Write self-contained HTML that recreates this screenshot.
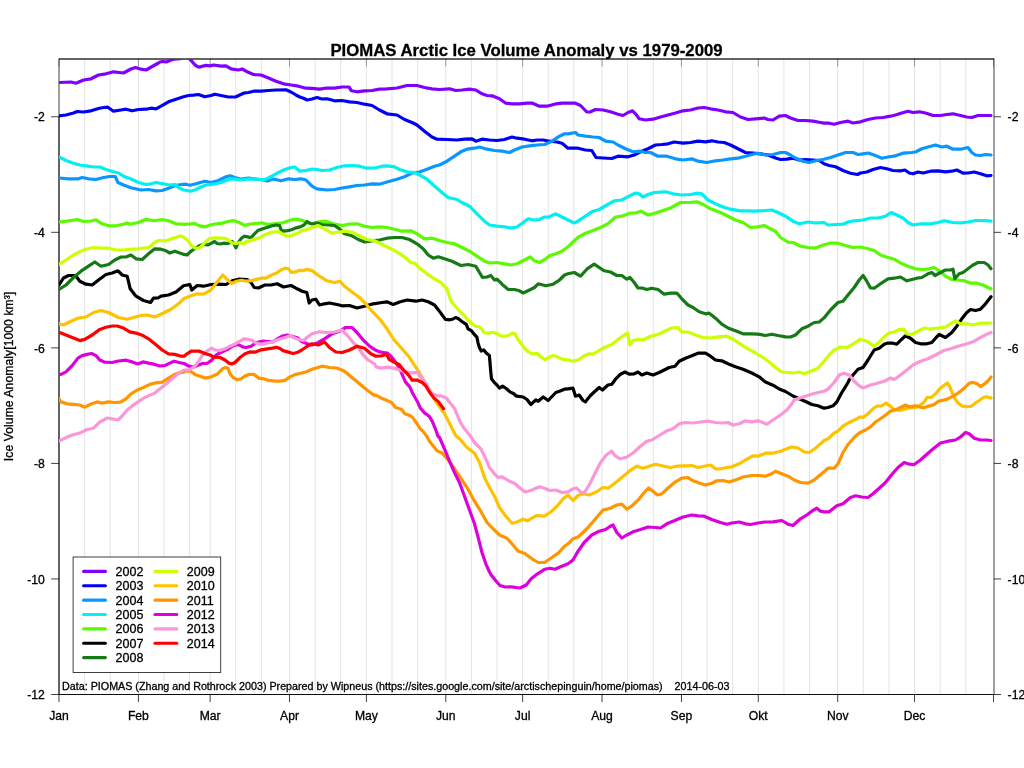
<!DOCTYPE html>
<html><head><meta charset="utf-8"><title>PIOMAS Arctic Ice Volume Anomaly vs 1979-2009</title>
<style>html,body{margin:0;padding:0;background:#fff}body{width:1024px;height:768px;overflow:hidden}svg{display:block}text{font-family:"Liberation Sans",Arial,Helvetica,sans-serif;fill:#000;stroke:#000;stroke-width:0.3px}</style></head><body>
<svg width="1024" height="768" viewBox="0 0 1024 768">
<rect width="1024" height="768" fill="#fff"/>
<defs><clipPath id="pc"><rect x="59.0" y="59.0" width="935.0" height="635.5"/></clipPath></defs>
<g><line x1="84.62" y1="59.0" x2="84.62" y2="694.5" stroke="#d9d9d9" stroke-width="0.75"/><line x1="110.23" y1="59.0" x2="110.23" y2="694.5" stroke="#d9d9d9" stroke-width="0.75"/><line x1="138.41" y1="59.0" x2="138.41" y2="694.5" stroke="#d8d8d8" stroke-width="0.75"/><line x1="164.02" y1="59.0" x2="164.02" y2="694.5" stroke="#d9d9d9" stroke-width="0.75"/><line x1="189.64" y1="59.0" x2="189.64" y2="694.5" stroke="#d9d9d9" stroke-width="0.75"/><line x1="210.13" y1="59.0" x2="210.13" y2="694.5" stroke="#d8d8d8" stroke-width="0.75"/><line x1="235.74" y1="59.0" x2="235.74" y2="694.5" stroke="#d9d9d9" stroke-width="0.75"/><line x1="261.36" y1="59.0" x2="261.36" y2="694.5" stroke="#d9d9d9" stroke-width="0.75"/><line x1="289.53" y1="59.0" x2="289.53" y2="694.5" stroke="#d8d8d8" stroke-width="0.75"/><line x1="315.15" y1="59.0" x2="315.15" y2="694.5" stroke="#d9d9d9" stroke-width="0.75"/><line x1="340.76" y1="59.0" x2="340.76" y2="694.5" stroke="#d9d9d9" stroke-width="0.75"/><line x1="366.38" y1="59.0" x2="366.38" y2="694.5" stroke="#d8d8d8" stroke-width="0.75"/><line x1="392.00" y1="59.0" x2="392.00" y2="694.5" stroke="#d9d9d9" stroke-width="0.75"/><line x1="417.61" y1="59.0" x2="417.61" y2="694.5" stroke="#d9d9d9" stroke-width="0.75"/><line x1="445.79" y1="59.0" x2="445.79" y2="694.5" stroke="#d8d8d8" stroke-width="0.75"/><line x1="471.40" y1="59.0" x2="471.40" y2="694.5" stroke="#d9d9d9" stroke-width="0.75"/><line x1="497.02" y1="59.0" x2="497.02" y2="694.5" stroke="#d9d9d9" stroke-width="0.75"/><line x1="522.63" y1="59.0" x2="522.63" y2="694.5" stroke="#d8d8d8" stroke-width="0.75"/><line x1="548.25" y1="59.0" x2="548.25" y2="694.5" stroke="#d9d9d9" stroke-width="0.75"/><line x1="573.86" y1="59.0" x2="573.86" y2="694.5" stroke="#d9d9d9" stroke-width="0.75"/><line x1="602.04" y1="59.0" x2="602.04" y2="694.5" stroke="#d8d8d8" stroke-width="0.75"/><line x1="627.65" y1="59.0" x2="627.65" y2="694.5" stroke="#d9d9d9" stroke-width="0.75"/><line x1="653.27" y1="59.0" x2="653.27" y2="694.5" stroke="#d9d9d9" stroke-width="0.75"/><line x1="681.44" y1="59.0" x2="681.44" y2="694.5" stroke="#d8d8d8" stroke-width="0.75"/><line x1="707.06" y1="59.0" x2="707.06" y2="694.5" stroke="#d9d9d9" stroke-width="0.75"/><line x1="732.67" y1="59.0" x2="732.67" y2="694.5" stroke="#d9d9d9" stroke-width="0.75"/><line x1="758.29" y1="59.0" x2="758.29" y2="694.5" stroke="#d8d8d8" stroke-width="0.75"/><line x1="783.90" y1="59.0" x2="783.90" y2="694.5" stroke="#d9d9d9" stroke-width="0.75"/><line x1="809.52" y1="59.0" x2="809.52" y2="694.5" stroke="#d9d9d9" stroke-width="0.75"/><line x1="837.70" y1="59.0" x2="837.70" y2="694.5" stroke="#d8d8d8" stroke-width="0.75"/><line x1="863.31" y1="59.0" x2="863.31" y2="694.5" stroke="#d9d9d9" stroke-width="0.75"/><line x1="888.93" y1="59.0" x2="888.93" y2="694.5" stroke="#d9d9d9" stroke-width="0.75"/><line x1="914.54" y1="59.0" x2="914.54" y2="694.5" stroke="#d8d8d8" stroke-width="0.75"/><line x1="940.16" y1="59.0" x2="940.16" y2="694.5" stroke="#d9d9d9" stroke-width="0.75"/><line x1="965.77" y1="59.0" x2="965.77" y2="694.5" stroke="#d9d9d9" stroke-width="0.75"/></g>
<rect x="59.0" y="59.0" width="935.0" height="635.5" fill="none" stroke="#000" stroke-width="0.75"/>
<g stroke="#000" stroke-width="0.75"><line x1="59.00" y1="694.5" x2="59.00" y2="702.0"/><line x1="59.00" y1="58.5" x2="59.00" y2="66.5" stroke-opacity="0.45"/><line x1="138.41" y1="694.5" x2="138.41" y2="702.0"/><line x1="138.41" y1="58.5" x2="138.41" y2="66.5" stroke-opacity="0.45"/><line x1="210.13" y1="694.5" x2="210.13" y2="702.0"/><line x1="210.13" y1="58.5" x2="210.13" y2="66.5" stroke-opacity="0.45"/><line x1="289.53" y1="694.5" x2="289.53" y2="702.0"/><line x1="289.53" y1="58.5" x2="289.53" y2="66.5" stroke-opacity="0.45"/><line x1="366.38" y1="694.5" x2="366.38" y2="702.0"/><line x1="366.38" y1="58.5" x2="366.38" y2="66.5" stroke-opacity="0.45"/><line x1="445.79" y1="694.5" x2="445.79" y2="702.0"/><line x1="445.79" y1="58.5" x2="445.79" y2="66.5" stroke-opacity="0.45"/><line x1="522.63" y1="694.5" x2="522.63" y2="702.0"/><line x1="522.63" y1="58.5" x2="522.63" y2="66.5" stroke-opacity="0.45"/><line x1="602.04" y1="694.5" x2="602.04" y2="702.0"/><line x1="602.04" y1="58.5" x2="602.04" y2="66.5" stroke-opacity="0.45"/><line x1="681.44" y1="694.5" x2="681.44" y2="702.0"/><line x1="681.44" y1="58.5" x2="681.44" y2="66.5" stroke-opacity="0.45"/><line x1="758.29" y1="694.5" x2="758.29" y2="702.0"/><line x1="758.29" y1="58.5" x2="758.29" y2="66.5" stroke-opacity="0.45"/><line x1="837.70" y1="694.5" x2="837.70" y2="702.0"/><line x1="837.70" y1="58.5" x2="837.70" y2="66.5" stroke-opacity="0.45"/><line x1="914.54" y1="694.5" x2="914.54" y2="702.0"/><line x1="914.54" y1="58.5" x2="914.54" y2="66.5" stroke-opacity="0.45"/><line x1="993.50" y1="694.5" x2="993.50" y2="702.0"/><line x1="993.50" y1="58.5" x2="993.50" y2="66.5" stroke-opacity="0.45"/><line x1="51.2" y1="116.77" x2="59.0" y2="116.77"/><line x1="994.0" y1="116.77" x2="1001.0" y2="116.77"/><line x1="51.2" y1="232.32" x2="59.0" y2="232.32"/><line x1="994.0" y1="232.32" x2="1001.0" y2="232.32"/><line x1="51.2" y1="347.86" x2="59.0" y2="347.86"/><line x1="994.0" y1="347.86" x2="1001.0" y2="347.86"/><line x1="51.2" y1="463.41" x2="59.0" y2="463.41"/><line x1="994.0" y1="463.41" x2="1001.0" y2="463.41"/><line x1="51.2" y1="578.95" x2="59.0" y2="578.95"/><line x1="994.0" y1="578.95" x2="1001.0" y2="578.95"/><line x1="51.2" y1="694.50" x2="59.0" y2="694.50"/><line x1="994.0" y1="694.50" x2="1001.0" y2="694.50"/><line x1="59.0" y1="59.0" x2="994.0" y2="59.0"/><line x1="59.0" y1="694.5" x2="994.0" y2="694.5"/><line x1="59.0" y1="116.77" x2="59.0" y2="694.5"/></g>
<g clip-path="url(#pc)" fill="none" stroke-width="3.2" stroke-linejoin="round" stroke-linecap="round">
<polyline stroke="#7f00ff" points="59.0,82.5 71.0,82.0 76.0,83.2 83.5,80.0 91.0,78.8 98.5,75.0 106.0,73.8 113.5,71.8 123.5,73.0 131.0,69.0 135.5,67.5 141.0,69.2 146.0,70.0 152.2,66.5 158.5,63.0 160.0,62.0 162.9,61.5 166.3,62.0 169.8,60.5 172.7,59.5 176.1,59.0 180.5,58.7 184.9,55.9 189.3,58.7 191.2,60.5 193.2,62.9 195.2,65.1 197.6,66.6 200.0,67.1 203.0,66.1 205.9,65.4 210.0,65.9 213.5,65.0 221.0,66.2 226.0,65.8 231.0,68.8 238.5,70.0 242.2,69.0 246.0,71.2 253.5,74.5 261.0,75.0 268.5,78.0 276.0,81.2 283.5,83.8 291.0,85.0 298.5,86.2 306.0,88.2 312.0,88.4 319.5,89.2 327.0,88.0 334.5,88.2 342.0,87.0 349.0,87.0 351.5,90.8 357.0,91.8 364.5,90.8 372.0,90.5 379.5,89.2 387.0,88.8 397.0,88.0 407.0,85.5 417.0,85.5 424.5,87.5 432.0,88.8 439.5,89.5 449.5,88.8 455.8,90.5 462.0,90.0 469.5,89.2 475.8,90.0 482.0,93.8 487.0,95.5 492.0,95.8 499.5,98.8 505.8,103.2 512.0,103.8 519.5,103.8 527.0,103.2 532.0,103.0 539.5,106.2 547.0,106.2 554.5,104.2 562.0,103.2 568.0,103.2 575.5,103.2 580.5,105.5 586.8,112.0 590.5,111.8 595.5,109.5 603.0,110.0 610.5,111.8 618.0,114.2 623.0,115.5 628.0,112.5 632.5,110.8 635.5,113.8 639.2,118.8 645.5,120.0 653.0,119.2 660.5,117.0 668.0,115.0 675.5,113.0 683.0,110.8 690.5,110.0 698.0,108.0 704.2,107.5 710.5,108.8 718.0,110.0 725.5,111.8 733.0,112.5 740.5,117.0 748.0,119.5 755.5,118.8 764.2,118.0 768.0,119.5 773.0,120.0 779.2,116.2 785.5,115.5 790.5,118.0 798.0,120.5 805.5,120.5 813.0,121.2 820.5,122.5 824.0,123.1 829.2,123.2 834.2,124.2 840.5,122.5 848.0,121.2 853.0,123.0 860.5,121.8 868.0,119.5 875.5,118.0 883.0,117.5 890.5,116.2 895.5,115.0 901.8,113.0 908.0,111.2 913.0,112.5 919.2,111.8 925.5,113.0 933.0,115.5 940.5,115.5 946.8,114.5 953.0,113.8 960.5,115.5 966.8,117.0 971.8,117.5 978.0,115.5 985.5,115.5 991.0,115.5"/>
<polyline stroke="#0000f5" points="59.0,115.8 66.0,115.0 73.5,113.0 77.2,111.5 83.5,112.0 91.0,110.8 98.5,108.5 103.5,107.5 107.8,107.2 113.5,111.2 121.0,110.0 126.0,109.2 132.2,110.8 138.5,109.5 146.0,109.2 151.0,108.2 156.0,108.8 161.0,106.2 168.5,101.8 176.0,99.2 183.5,96.8 188.5,95.5 193.5,95.2 198.5,94.5 204.8,96.8 211.0,95.5 214.8,94.2 221.0,95.5 228.5,97.0 236.0,96.8 243.5,93.2 248.5,92.5 253.5,91.2 261.0,91.2 268.5,90.5 276.0,90.0 286.0,89.8 291.0,92.0 296.0,95.0 299.8,97.0 303.5,98.2 307.2,100.0 312.0,99.0 317.0,97.5 322.0,99.0 327.0,98.8 334.5,100.8 342.0,100.5 349.5,101.8 357.0,102.5 364.5,104.2 372.0,105.5 379.5,110.0 387.0,113.8 397.0,115.0 404.5,119.5 412.0,122.5 417.0,125.0 424.5,131.2 432.0,137.0 437.0,139.2 447.0,139.5 457.0,140.0 464.5,139.2 472.0,138.8 475.8,141.2 482.0,139.2 489.5,140.0 497.0,140.5 504.5,139.5 512.0,137.0 517.0,138.2 524.5,139.2 532.0,140.8 537.0,140.0 543.2,140.0 549.5,141.2 557.0,142.0 562.0,143.2 568.0,148.2 578.0,148.2 585.5,150.0 591.8,150.5 596.0,157.5 603.0,158.0 611.8,158.5 618.0,156.2 628.0,156.8 634.2,155.0 640.5,151.8 648.0,148.8 655.5,145.0 661.8,144.5 668.0,143.8 674.2,142.0 683.0,143.2 690.5,142.5 698.0,141.2 705.5,141.8 711.8,140.8 718.0,142.0 724.2,142.5 730.5,145.0 738.0,148.8 745.5,152.5 753.0,153.2 760.5,153.8 768.0,155.0 775.5,158.0 780.5,159.5 786.8,159.2 793.0,158.2 799.2,160.0 805.5,159.5 813.0,160.0 819.2,160.5 824.0,163.8 829.2,165.5 835.5,166.8 843.0,170.5 850.5,173.2 857.5,174.5 860.5,173.0 866.8,172.0 873.0,169.5 880.5,167.5 886.8,168.8 893.0,170.5 900.5,170.8 905.0,170.0 909.2,173.0 913.0,173.8 918.0,172.0 923.0,173.0 930.5,171.2 938.0,170.8 945.5,171.8 951.8,171.2 956.8,170.0 963.0,173.2 968.0,173.0 974.2,172.0 980.5,173.8 986.8,175.8 991.0,175.5"/>
<polyline stroke="#0a96ff" points="59.0,178.0 68.5,178.8 78.5,178.8 82.2,177.5 88.5,178.8 96.0,179.5 103.5,177.5 109.8,176.5 115.2,176.5 118.0,182.5 123.5,185.0 131.0,187.8 141.0,190.0 148.5,189.5 156.0,190.8 162.2,190.5 168.5,188.2 174.8,185.8 181.0,184.5 186.0,184.2 189.8,185.2 196.0,183.8 204.8,181.2 211.0,182.5 218.5,180.5 226.0,176.8 230.2,175.8 234.8,177.5 241.0,179.2 248.5,178.0 256.0,179.2 261.0,179.5 267.2,181.0 273.5,179.0 281.0,180.8 288.5,178.8 294.8,179.5 301.0,178.8 306.0,180.0 312.0,186.2 317.0,188.8 327.0,190.0 334.5,189.5 342.0,188.0 349.5,186.8 357.0,185.5 364.5,185.0 372.0,183.8 379.5,184.2 387.0,182.0 397.0,179.2 404.5,176.8 412.0,173.0 419.5,172.0 427.0,169.2 434.5,166.2 439.5,165.0 447.0,161.2 454.5,156.2 462.0,151.2 467.0,149.2 474.5,148.2 479.5,147.0 487.0,149.2 494.5,150.5 502.0,151.2 509.5,152.5 514.5,150.0 522.0,147.0 529.5,145.8 537.0,145.0 544.5,144.5 552.0,141.2 559.5,136.2 564.5,133.8 568.0,133.8 575.5,132.5 578.0,135.0 585.5,136.2 593.0,137.0 599.2,137.5 605.5,141.2 613.0,142.0 618.0,145.0 625.5,148.8 633.0,151.8 640.5,151.2 645.5,152.5 650.5,152.5 658.0,156.2 666.8,156.2 675.5,158.8 683.0,160.0 691.8,158.8 698.0,161.2 706.8,162.5 715.5,160.8 723.0,160.0 730.5,158.8 738.0,158.2 745.5,156.2 753.0,154.2 758.0,153.2 765.5,155.0 773.0,154.5 780.5,152.5 785.5,152.5 790.5,155.0 795.5,158.0 803.0,161.2 809.2,162.5 815.5,160.8 824.0,159.2 830.5,157.5 838.0,155.0 845.5,152.5 853.0,152.5 858.0,154.5 863.0,153.8 868.0,153.0 874.2,155.0 881.8,158.2 888.0,157.0 895.5,155.8 903.0,153.2 911.8,152.5 915.5,152.0 921.8,148.8 928.0,147.0 935.5,145.0 941.8,147.0 946.8,146.2 953.0,149.2 960.5,149.2 968.0,147.5 971.8,152.5 975.5,155.0 980.5,155.5 985.5,154.5 991.0,155.0"/>
<polyline stroke="#00f0f0" points="59.0,157.0 66.0,160.5 73.5,163.2 79.8,165.0 86.0,165.8 93.5,167.0 99.8,167.0 106.0,169.5 113.5,171.8 118.5,173.0 123.5,176.2 131.0,179.0 138.5,182.5 146.0,184.5 151.0,183.8 156.0,182.5 163.5,183.8 168.5,185.0 175.5,184.5 178.5,187.5 183.5,190.0 191.0,191.2 196.0,189.5 201.0,187.0 206.0,185.0 213.5,184.2 221.0,182.5 228.5,179.5 233.5,178.8 241.0,180.0 248.5,178.8 256.0,179.2 263.5,180.0 268.5,178.0 276.0,173.8 283.5,170.0 291.0,167.5 294.8,167.0 299.8,171.2 306.0,170.5 312.0,169.0 317.0,169.5 322.0,170.5 329.5,170.0 337.0,167.5 344.5,165.8 352.0,165.5 359.5,166.2 367.0,168.2 374.5,168.0 382.0,166.2 387.0,165.8 394.5,166.8 399.5,169.5 407.0,171.8 414.5,172.5 419.5,175.0 427.0,179.2 432.0,183.8 437.0,188.2 442.0,192.5 448.2,197.5 457.0,199.5 462.0,202.5 469.5,206.2 477.0,213.8 484.5,221.2 489.5,225.0 497.0,226.2 504.5,226.8 510.8,228.0 517.0,227.0 523.2,222.5 528.2,218.8 534.5,220.0 539.5,219.5 544.5,217.0 549.5,216.8 555.8,213.8 562.0,217.0 568.0,220.0 574.2,223.0 578.0,221.2 585.5,216.2 593.0,211.2 599.2,209.5 606.8,205.0 614.2,200.8 621.8,200.0 629.2,196.2 635.5,193.0 639.2,193.8 643.0,197.0 648.0,194.5 654.2,192.5 665.5,191.8 673.0,193.8 681.8,195.0 690.5,194.5 696.8,193.2 701.8,193.8 708.0,200.0 715.5,203.8 723.0,207.0 730.5,209.2 740.5,210.8 748.0,210.8 755.5,211.2 765.5,210.5 771.8,210.0 778.0,212.5 785.5,216.2 793.0,221.2 799.2,223.8 808.0,222.0 815.5,223.0 824.0,222.5 828.0,225.0 835.5,224.5 843.0,224.2 848.0,222.0 854.2,220.8 863.0,220.0 870.5,218.0 878.0,218.0 885.5,216.2 891.0,212.5 896.8,215.0 903.0,218.0 908.0,222.5 913.0,225.0 920.5,223.8 930.5,223.8 938.0,222.5 944.2,220.8 953.0,222.5 960.5,223.0 968.0,222.0 975.5,220.5 983.0,220.5 991.0,221.2"/>
<polyline stroke="#5cfa00" points="59.0,222.0 68.5,220.8 77.2,219.5 83.5,221.5 91.0,221.0 96.0,219.8 102.2,223.8 108.5,225.8 116.0,225.8 123.5,224.2 127.2,223.0 129.8,224.2 138.5,222.5 146.0,219.2 153.5,220.8 162.2,219.5 168.5,220.8 176.0,223.8 183.5,224.2 184.0,224.4 189.0,224.0 194.6,223.5 199.0,225.6 204.6,226.9 210.2,225.0 216.5,223.8 222.8,223.1 227.8,221.5 233.4,220.6 239.0,222.5 244.6,225.4 250.2,224.0 256.5,223.5 261.5,222.8 267.1,224.4 271.5,224.0 276.5,223.5 282.8,222.8 287.8,221.0 292.8,219.4 297.8,219.4 302.8,220.6 307.1,222.8 312.0,223.5 319.5,221.8 325.8,221.2 333.2,223.8 342.0,225.5 349.5,224.2 357.0,223.8 364.5,226.2 372.0,227.5 379.5,226.8 387.0,227.5 394.5,229.2 402.0,231.2 410.8,230.8 417.0,233.8 424.5,238.8 432.0,238.2 439.5,240.5 447.0,242.5 454.5,243.8 462.0,247.5 469.5,251.2 477.0,256.2 484.5,261.2 489.5,263.0 497.0,262.5 504.5,263.8 510.8,265.0 517.0,263.8 524.5,260.0 530.2,256.8 534.5,260.8 539.5,262.5 545.8,258.8 549.5,255.8 555.8,253.8 562.0,251.2 568.0,246.8 573.0,242.0 578.0,237.5 585.5,233.2 593.0,230.5 600.5,227.5 608.0,223.8 615.5,217.0 621.8,216.2 630.5,213.0 635.5,213.0 641.0,211.2 648.0,215.0 655.5,213.0 663.0,210.5 670.5,208.0 680.5,202.5 689.2,202.5 696.8,201.8 704.2,205.0 710.5,208.8 720.5,212.5 728.0,216.2 735.5,220.0 743.0,222.5 750.5,227.5 758.0,226.8 764.2,225.5 770.5,228.8 775.5,231.2 780.5,237.5 788.0,242.2 793.0,242.5 800.5,246.2 808.0,247.5 815.5,248.0 824.0,244.8 830.5,243.0 838.0,243.2 845.5,245.5 853.0,247.5 860.5,247.0 868.0,248.8 874.2,250.5 880.5,255.0 888.0,257.5 894.2,259.2 900.5,263.0 908.0,266.2 915.5,268.8 923.0,269.5 929.2,268.8 934.2,267.5 939.2,270.8 945.5,276.2 951.8,279.5 958.0,280.0 964.2,280.8 970.5,283.2 976.8,283.2 983.0,285.0 988.0,287.5 991.0,288.8"/>
<polyline stroke="#000000" points="59.0,285.0 63.5,278.0 68.5,275.5 75.5,275.5 79.8,281.2 86.0,284.2 92.2,285.0 98.5,280.0 106.0,274.5 112.2,273.0 118.0,270.8 122.2,275.0 127.2,276.2 130.2,288.8 136.0,296.2 143.5,300.5 150.5,302.5 153.5,298.2 158.0,298.0 161.0,296.2 168.5,295.0 176.0,292.0 183.5,285.8 189.8,284.5 191.8,290.0 197.2,285.5 203.5,286.2 211.0,284.5 218.5,284.2 226.0,284.5 232.2,280.8 238.5,279.2 247.2,279.5 251.0,282.5 254.2,287.5 258.5,288.0 264.8,285.0 271.0,285.0 277.2,283.8 283.5,287.0 291.0,285.5 296.0,288.2 302.2,291.2 306.8,292.5 309.2,303.0 312.0,300.0 315.8,299.2 319.5,305.0 324.5,303.8 329.5,303.0 337.0,304.5 342.0,305.8 349.5,305.5 357.0,308.0 364.5,306.2 373.2,303.8 382.0,302.5 387.0,301.8 393.2,304.5 399.5,302.0 407.0,300.0 415.8,301.2 422.0,300.0 428.2,301.8 434.5,305.0 440.0,311.9 442.5,315.6 445.6,319.4 450.0,319.8 453.1,319.0 455.6,317.5 458.1,318.5 461.9,321.5 466.2,324.4 468.1,328.8 471.2,330.6 473.8,333.8 476.9,337.2 478.1,343.1 479.4,347.5 481.2,351.0 483.8,350.0 486.2,353.1 489.4,355.6 490.0,362.5 490.6,370.0 491.5,378.8 493.8,381.9 496.9,385.0 499.4,388.1 502.5,386.2 506.2,388.5 510.0,391.9 513.8,393.8 516.2,396.0 517.0,396.2 523.2,397.0 527.0,399.5 530.8,404.5 535.8,400.0 538.2,401.2 543.2,397.0 548.2,400.5 555.8,392.5 559.5,391.2 564.5,389.2 568.0,388.8 573.0,388.2 575.5,396.2 579.2,395.0 583.0,400.5 585.5,402.0 586.8,400.0 590.5,395.5 594.2,392.0 599.2,387.5 602.5,390.0 608.0,385.0 611.8,384.2 615.5,379.2 620.5,374.2 625.0,372.0 629.2,374.2 634.2,373.8 638.0,372.0 641.8,375.0 646.8,373.0 653.0,375.0 659.2,372.5 664.2,370.0 669.2,367.5 675.0,366.2 679.2,361.2 685.5,358.2 691.8,355.8 698.0,353.2 705.5,353.2 710.5,356.2 715.5,360.0 721.8,360.8 728.0,363.8 735.5,366.8 743.0,369.2 751.8,373.0 759.2,376.8 765.5,382.1 773.0,385.2 779.2,389.0 785.5,391.5 793.0,396.0 799.2,398.8 805.5,401.5 811.8,404.5 818.0,405.8 824.0,408.2 828.0,407.5 833.0,405.8 836.8,402.0 840.5,395.0 841.8,392.5 844.2,388.8 848.0,382.5 849.2,380.0 853.0,375.0 858.0,369.2 863.0,367.5 868.0,360.0 874.2,350.0 879.2,348.2 884.2,344.2 888.0,343.0 893.0,343.2 896.8,344.2 901.8,339.2 905.5,335.8 910.5,338.2 915.5,342.5 920.5,343.8 926.8,343.8 931.8,342.5 935.5,338.2 939.2,334.5 945.5,337.5 951.8,332.5 956.8,326.2 961.8,318.8 966.8,312.5 970.5,309.5 975.5,310.5 980.5,309.2 985.5,303.8 991.0,296.8"/>
<polyline stroke="#157a15" points="59.0,289.5 66.0,285.0 73.5,277.5 81.0,271.2 88.5,266.2 94.8,262.0 101.0,266.2 108.5,264.5 114.8,260.0 121.0,257.0 126.0,257.0 131.0,255.0 136.0,258.8 142.2,259.5 148.5,253.8 154.8,248.8 161.0,249.2 166.0,250.8 169.8,253.0 174.8,251.2 179.8,253.0 184.0,254.4 187.1,255.0 190.2,251.9 194.6,248.8 199.6,245.6 204.0,244.4 207.8,245.0 211.5,243.1 214.6,241.5 217.1,243.5 220.2,244.0 224.0,243.1 227.8,243.5 232.1,241.5 234.0,243.8 235.9,247.8 238.4,242.5 241.5,238.1 244.6,236.2 247.8,236.9 250.9,237.8 254.0,234.4 257.8,230.6 262.8,228.8 267.8,227.2 272.8,225.6 276.5,225.0 279.6,225.6 280.9,229.4 283.4,231.2 287.8,230.6 291.5,229.8 295.2,228.1 300.2,226.9 304.0,225.0 307.1,221.5 309.6,223.1 312.0,224.0 317.0,223.0 322.0,224.5 328.2,225.0 334.5,225.5 339.5,228.8 344.5,233.8 352.0,235.8 358.2,239.5 364.5,242.0 372.0,240.8 379.5,240.0 387.0,238.2 394.5,237.5 402.0,237.5 409.5,239.5 417.0,243.8 423.2,248.8 428.2,255.0 433.2,258.2 438.2,256.8 444.5,258.8 452.0,261.2 460.8,265.5 468.2,264.5 475.8,266.2 479.5,272.5 482.5,277.5 487.0,277.0 490.8,275.5 494.5,280.0 497.0,279.2 502.0,284.2 508.2,289.5 514.5,289.5 519.5,290.8 523.2,293.0 529.5,290.0 534.5,287.5 538.2,283.8 545.8,285.8 553.2,284.2 559.5,280.0 564.5,275.0 568.0,273.8 574.2,272.5 580.5,276.2 586.8,269.2 594.2,264.2 599.2,267.5 604.2,270.8 610.5,272.0 616.8,275.5 621.8,275.5 626.8,279.2 630.0,277.5 634.2,282.5 638.0,288.0 643.0,288.2 646.8,289.5 651.8,288.2 658.0,289.5 664.2,294.2 670.5,293.2 676.8,293.0 681.8,298.8 688.0,305.0 693.0,307.5 699.2,311.8 705.5,313.8 709.2,313.2 715.5,318.2 721.8,324.2 728.0,328.0 735.5,330.8 743.0,333.8 750.5,333.8 758.0,334.2 765.5,335.5 771.8,334.2 778.0,335.5 785.5,336.8 790.5,337.0 795.5,335.0 801.8,328.8 808.0,326.2 814.2,322.5 819.2,322.0 824.0,317.9 830.5,310.0 838.0,302.5 843.0,301.2 848.0,295.0 854.2,287.5 859.2,280.0 863.0,275.5 866.8,281.2 870.5,288.0 874.2,288.2 880.5,283.8 888.0,278.8 894.2,278.2 900.5,277.0 906.8,280.8 911.8,279.5 916.8,278.2 921.8,277.5 928.0,273.8 931.8,272.5 935.0,275.5 940.5,272.5 945.5,270.0 950.5,270.0 953.0,269.2 954.8,278.8 959.2,273.8 963.0,272.5 968.0,268.8 973.0,265.0 978.0,262.5 984.2,262.5 988.0,265.0 991.0,268.8"/>
<polyline stroke="#ccff00" points="59.0,264.5 66.0,260.0 73.5,255.0 81.0,251.2 86.0,249.2 93.5,247.5 101.0,248.0 108.5,248.2 116.0,250.0 123.5,250.0 131.0,249.2 138.5,248.8 143.5,248.0 148.5,247.5 154.8,242.5 158.5,240.5 166.0,240.8 173.5,238.0 181.0,235.8 184.0,237.5 187.8,240.6 191.5,245.6 195.2,248.1 199.6,247.8 202.8,245.0 205.9,241.2 209.6,238.5 214.0,237.9 217.8,237.8 221.5,238.1 225.2,238.5 228.4,240.0 232.1,243.1 236.5,243.5 240.2,242.5 243.4,244.0 245.9,241.9 250.2,240.6 254.6,239.4 259.0,238.1 264.0,235.2 269.0,233.1 274.0,231.9 279.0,231.9 282.8,234.4 286.5,236.0 290.2,236.0 294.0,234.4 297.8,233.1 301.5,230.6 306.5,229.8 312.0,227.5 318.2,225.5 324.5,228.8 332.0,233.2 339.5,232.0 345.8,231.2 353.2,232.5 359.5,235.8 367.0,239.5 374.5,240.8 382.0,244.5 389.5,248.0 397.0,252.0 404.5,256.8 410.8,262.5 414.5,263.0 419.5,268.0 427.0,273.8 434.5,278.8 440.8,282.5 447.0,288.8 450.6,300.0 453.1,303.8 457.5,308.8 462.5,313.8 466.9,318.8 471.2,323.1 475.6,326.2 479.4,326.9 481.9,329.4 483.8,332.5 488.8,333.1 491.9,332.2 496.2,333.1 499.4,335.2 504.4,336.5 508.8,335.2 512.5,333.1 515.0,333.8 517.5,338.8 521.2,343.8 525.0,348.8 528.8,352.2 531.9,353.8 537.5,353.4 540.6,356.9 545.0,359.6 548.8,357.5 553.1,355.4 557.5,356.9 561.9,359.1 568.0,359.8 573.0,361.2 579.2,359.5 584.2,355.8 589.2,353.8 593.0,354.2 598.0,351.2 605.5,347.0 611.8,344.5 618.0,339.5 624.2,335.0 627.5,333.0 629.8,345.0 633.0,340.5 639.2,339.2 643.0,340.0 650.5,336.2 658.0,334.5 665.5,330.8 671.8,328.0 678.0,327.5 681.8,332.0 688.0,332.0 695.5,335.0 703.0,337.5 710.5,338.0 718.0,336.8 726.8,336.2 733.0,339.2 740.5,344.2 748.0,348.8 755.5,353.0 763.0,357.5 770.5,363.0 775.5,367.5 781.8,372.0 788.0,372.5 794.2,373.0 799.2,372.0 804.2,373.8 810.5,371.2 818.0,368.2 824.0,361.2 829.2,355.0 834.2,350.0 840.5,347.0 846.8,347.5 853.0,344.2 860.5,339.2 866.8,341.2 874.2,346.2 879.2,342.0 884.2,336.8 889.2,333.0 894.2,332.0 899.2,329.5 903.8,329.2 906.8,333.8 911.8,334.5 918.0,331.2 924.2,328.0 930.5,329.2 938.0,328.2 945.5,327.0 950.5,323.8 955.5,320.8 960.5,323.8 966.8,323.8 973.0,325.0 980.5,323.0 986.8,323.2 991.0,323.0"/>
<polyline stroke="#fdc200" points="59.0,323.8 63.5,325.0 71.0,321.2 78.5,318.0 86.0,317.0 93.5,312.5 101.0,310.5 108.5,312.5 118.5,317.5 127.2,319.2 133.5,317.5 141.0,315.5 147.2,315.0 154.8,317.0 163.5,313.0 171.0,309.2 178.5,303.8 183.5,298.8 191.0,295.8 197.2,293.8 203.5,294.2 211.0,290.0 214.0,286.0 217.8,281.2 222.8,275.0 227.1,279.4 231.5,283.5 236.5,281.2 241.5,280.2 246.5,281.2 251.5,280.6 256.5,279.4 261.5,278.1 265.9,278.1 271.5,275.0 276.5,273.1 280.9,270.0 285.2,268.1 288.4,268.8 291.5,272.5 295.2,271.9 299.0,270.4 302.8,270.6 307.1,269.4 312.0,270.6 319.5,276.2 327.0,280.8 334.5,282.5 340.0,281.2 344.5,286.2 352.0,292.0 359.5,297.5 365.8,303.8 372.0,311.2 379.5,318.8 387.0,328.8 394.1,340.0 401.0,347.5 408.5,356.2 413.5,363.8 418.5,371.2 423.5,380.0 428.5,390.0 434.8,400.0 441.0,408.8 444.1,413.1 447.9,420.0 452.2,428.8 456.0,436.0 459.5,438.8 467.0,447.5 474.5,453.2 479.5,462.5 484.5,477.5 489.5,487.5 494.5,496.2 499.5,507.5 505.8,516.2 512.0,523.2 517.0,522.0 523.2,519.2 527.5,520.8 532.0,518.0 537.0,515.5 544.5,516.2 550.8,512.0 557.0,506.2 563.2,498.8 568.0,495.0 573.0,500.5 578.0,495.5 583.0,493.8 589.2,495.0 595.5,492.5 603.0,487.5 608.0,488.2 614.2,483.8 621.8,477.5 629.2,471.2 636.8,466.2 643.0,468.2 649.2,466.2 655.5,464.2 664.2,466.2 670.5,467.5 676.8,466.2 684.2,465.8 691.8,465.5 698.0,467.5 704.2,466.2 710.5,465.0 715.5,468.8 720.5,468.8 726.8,467.5 731.8,466.8 739.2,463.8 745.5,460.0 753.0,455.8 758.0,456.2 765.5,453.2 773.0,453.2 780.5,451.2 786.8,448.8 791.8,447.0 798.0,448.0 804.2,452.0 809.2,452.5 815.5,448.2 820.5,443.8 824.0,440.5 828.0,438.8 834.2,433.0 838.0,431.2 843.0,426.2 848.0,423.0 855.5,419.5 860.5,416.8 863.0,417.5 868.0,413.8 873.0,408.8 876.8,406.2 881.8,405.8 886.0,403.2 890.5,406.2 894.2,410.0 900.5,410.5 908.0,408.2 915.5,407.5 920.5,405.0 924.0,402.2 927.1,397.5 931.8,397.1 935.7,393.6 939.6,388.9 943.5,385.8 947.4,383.0 949.8,386.6 952.1,392.8 955.2,399.1 958.4,403.4 962.3,406.1 966.2,406.7 970.9,406.5 974.8,403.4 979.5,400.2 983.4,397.5 986.5,396.7 991.0,397.9"/>
<polyline stroke="#ff9600" points="59.0,398.8 61.0,401.9 67.2,403.8 73.5,404.4 79.8,405.0 84.8,407.2 91.0,404.0 97.2,401.9 102.2,403.1 108.5,401.9 114.8,402.5 120.4,402.2 126.0,398.8 131.0,393.8 137.2,390.0 143.5,387.5 149.8,384.4 156.0,382.8 162.2,382.1 168.5,378.1 174.8,374.4 181.0,372.5 184.0,372.2 185.0,371.2 190.6,371.2 195.0,374.4 200.0,376.2 205.0,378.1 211.2,376.9 217.5,374.0 222.5,368.8 225.6,367.5 228.1,368.5 230.0,373.8 233.1,377.5 237.5,379.8 241.2,378.8 245.0,375.9 248.8,374.4 253.8,374.4 258.8,378.1 263.8,378.8 268.8,380.4 275.0,381.2 280.0,381.2 285.0,380.4 290.0,376.9 295.0,374.6 298.0,373.8 298.5,373.8 306.0,372.0 312.0,369.2 322.0,366.2 329.5,367.5 337.0,368.0 344.5,371.2 352.0,377.5 359.5,383.8 367.0,390.0 374.5,395.5 376.0,395.0 381.0,398.1 387.2,400.6 391.6,402.5 395.4,407.5 399.1,408.5 401.6,409.4 404.8,413.8 408.5,415.0 412.2,416.9 414.8,420.6 417.9,425.0 420.4,429.0 423.5,431.9 426.6,436.0 429.5,441.2 437.0,450.8 442.0,453.0 448.2,460.0 454.5,468.8 462.0,480.0 468.2,489.5 474.5,501.2 480.8,511.2 487.0,522.5 493.2,528.8 499.5,535.0 507.0,538.2 512.0,543.8 518.2,551.2 524.5,553.2 532.0,558.8 538.2,562.5 544.5,562.5 550.8,558.2 558.2,553.2 564.5,546.2 568.0,543.8 573.0,538.8 578.0,537.0 583.0,532.5 588.0,527.5 595.5,518.8 603.0,510.0 610.5,508.2 616.8,505.0 621.8,504.2 626.8,509.2 633.0,505.0 639.2,498.8 644.2,492.5 648.5,488.0 653.0,491.2 657.5,495.0 661.8,493.8 668.0,488.0 675.5,481.8 681.8,478.2 688.0,477.5 693.0,480.8 699.2,483.0 705.5,485.0 711.8,483.2 716.8,480.8 723.0,480.5 729.2,482.0 736.8,479.5 743.0,477.0 751.8,475.5 759.2,475.5 765.5,476.2 771.8,473.8 775.5,471.2 781.8,473.8 788.0,476.2 794.2,480.0 800.5,482.5 808.0,483.2 814.2,480.0 819.2,475.8 824.0,471.8 828.0,468.2 834.2,468.2 838.0,463.8 843.0,452.5 848.0,444.5 854.2,437.5 859.2,433.0 865.5,430.0 870.5,426.8 875.5,422.0 883.0,417.0 890.5,411.2 898.0,408.8 905.5,405.0 909.2,406.8 915.5,405.8 921.8,407.5 924.0,407.7 928.7,406.1 934.2,404.5 938.1,401.4 942.8,400.2 947.4,399.1 952.1,396.7 956.8,394.0 961.5,390.5 965.4,387.0 968.5,383.8 970.9,382.7 974.0,382.7 977.1,383.8 980.6,386.6 984.2,384.2 988.1,380.7 991.0,377.0"/>
<polyline stroke="#dc00dc" points="59.0,374.8 61.0,374.4 66.0,371.9 72.2,365.6 77.9,358.1 82.2,355.6 87.2,354.4 91.6,353.5 96.0,355.6 99.8,360.0 104.8,362.2 112.2,362.5 118.5,361.0 126.0,360.2 132.2,361.9 137.9,364.0 142.9,361.9 148.5,363.1 154.8,364.4 159.8,366.0 164.8,365.6 169.8,363.1 174.1,361.2 179.1,362.5 184.0,363.5 188.8,366.2 193.8,366.9 198.8,365.0 202.5,363.5 206.9,363.5 211.2,360.6 216.2,355.0 221.2,352.2 227.5,349.4 232.5,346.2 236.2,344.8 239.4,345.0 242.5,346.9 246.2,347.5 251.2,346.2 256.2,342.5 262.5,341.2 267.5,341.5 272.5,341.9 277.5,338.8 282.5,336.0 287.5,335.0 298.0,338.1 301.0,341.2 307.2,343.8 312.0,345.0 318.2,342.5 324.5,338.8 332.0,333.8 339.5,331.2 345.8,327.5 352.0,327.5 357.0,332.5 363.2,340.0 369.5,346.2 375.9,350.3 379.8,351.9 383.5,352.5 387.2,353.1 391.0,356.2 395.4,361.9 399.8,368.8 402.9,376.2 405.4,381.9 409.8,386.9 412.9,393.8 417.2,401.2 420.4,408.1 424.8,413.1 429.1,416.2 432.2,421.2 435.4,428.8 437.9,436.0 439.5,437.5 444.5,448.8 449.5,461.2 454.5,472.5 459.5,482.5 464.5,496.2 469.5,510.0 474.5,523.8 478.2,537.5 482.0,552.5 485.8,563.8 489.5,572.0 491.2,575.0 496.2,581.2 500.0,585.5 505.0,587.0 511.2,586.8 516.2,587.5 520.0,588.0 526.2,585.0 531.2,578.8 537.5,573.8 545.0,569.2 550.0,568.2 555.0,569.2 560.0,567.0 565.0,565.0 568.0,563.8 573.0,560.0 578.0,551.2 584.2,542.5 591.8,535.0 599.2,531.2 605.5,529.5 609.2,527.0 613.0,525.0 616.8,532.5 621.8,538.0 626.8,535.0 633.0,531.8 640.5,529.5 648.0,527.0 655.5,527.5 660.5,528.0 666.8,523.8 674.2,520.8 683.0,517.0 691.8,515.0 698.0,515.8 704.2,516.2 711.8,519.5 720.5,522.5 726.8,524.2 731.8,523.0 739.2,522.0 745.5,523.8 750.5,524.5 758.0,523.0 765.5,522.0 773.0,521.8 781.8,520.5 788.0,524.2 793.0,525.5 800.5,518.8 806.8,515.0 811.8,511.2 816.8,508.2 820.5,511.2 824.0,511.8 829.2,511.8 836.8,505.8 843.0,503.8 850.5,497.5 855.5,495.8 861.8,497.0 868.0,497.5 873.0,493.8 879.2,488.2 885.5,482.5 891.8,474.5 898.0,467.5 904.2,462.5 909.2,464.2 914.2,464.5 920.5,460.0 928.0,453.2 934.2,448.0 940.5,443.0 948.0,441.2 955.5,440.0 960.5,437.0 965.5,432.5 969.2,433.8 974.2,438.2 980.5,440.0 986.8,440.0 991.0,440.5"/>
<polyline stroke="#fb96d8" points="59.0,441.2 66.0,437.5 72.2,435.0 79.8,433.0 87.2,429.5 93.5,428.2 99.8,422.0 107.2,418.0 112.2,418.8 118.0,420.0 122.2,416.0 127.2,410.0 133.5,405.0 139.8,400.6 146.0,396.9 154.8,393.1 161.0,388.1 167.2,383.1 173.5,377.5 179.8,372.5 184.0,370.0 188.8,370.0 195.0,366.2 198.8,361.2 202.5,355.0 207.5,350.6 211.9,348.1 215.0,350.0 220.0,350.6 225.0,348.8 230.0,346.2 235.0,344.0 240.0,341.2 243.8,338.8 248.8,339.4 252.5,340.6 256.2,343.1 261.2,344.4 266.2,343.1 271.2,342.2 276.2,340.2 281.2,338.8 286.2,337.2 290.0,335.6 293.8,337.5 298.0,339.4 303.5,340.5 308.5,336.2 312.0,333.8 319.5,331.8 327.0,332.5 334.5,332.0 342.0,330.0 347.0,335.0 353.2,342.5 358.2,347.5 363.2,355.0 368.2,360.0 374.5,363.8 376.0,366.9 381.0,368.1 387.2,367.2 393.5,368.1 399.8,370.0 406.0,372.2 412.2,372.8 417.9,372.2 419.8,376.2 424.1,380.6 428.5,388.1 432.2,393.8 437.2,395.6 442.2,396.2 446.6,398.1 449.8,402.5 454.8,408.8 457.2,415.0 459.8,421.2 463.5,427.5 468.5,433.8 470.4,436.0 474.5,442.5 480.8,448.8 485.8,458.8 489.5,467.5 494.5,473.8 498.2,477.5 502.0,476.8 509.5,481.2 514.5,483.2 520.8,488.8 525.0,492.0 532.0,490.0 539.5,486.8 544.5,488.2 549.5,490.5 555.8,490.0 562.0,492.5 568.0,491.8 573.0,488.8 576.8,488.0 580.5,492.0 584.2,493.0 589.2,485.0 594.2,475.0 600.5,462.5 606.8,454.5 611.8,451.2 615.5,456.2 620.5,458.8 626.8,457.0 633.0,453.0 640.5,446.2 646.8,441.2 651.8,440.0 659.2,435.5 666.8,430.8 673.0,428.8 679.2,423.8 685.5,422.5 693.0,423.0 700.5,422.0 708.0,421.2 715.5,422.5 723.0,423.0 728.0,422.5 733.0,425.0 739.2,423.8 745.5,420.8 751.8,421.8 758.0,420.8 763.0,422.5 766.8,424.2 773.0,420.0 780.5,415.0 786.8,410.0 791.8,403.8 794.2,400.0 795.5,399.5 803.0,397.0 805.5,396.2 810.5,394.5 818.0,392.5 824.0,391.2 828.0,389.2 834.2,382.5 839.2,375.0 844.2,373.2 849.2,375.0 854.2,381.2 859.2,385.8 863.0,388.0 870.5,385.0 878.0,383.0 884.2,381.2 890.5,378.0 894.2,379.5 900.5,375.0 906.8,370.0 913.0,365.0 920.5,361.2 928.0,358.8 935.5,355.0 943.0,350.8 950.5,348.8 958.0,346.2 965.5,344.2 973.0,341.8 980.5,337.5 986.8,334.2 991.0,332.5"/>
<polyline stroke="#ff0000" points="59.0,332.2 61.0,333.1 67.2,335.6 73.5,338.1 79.8,340.6 84.8,339.4 92.2,335.0 99.8,329.4 106.0,327.2 112.2,326.0 117.2,326.0 123.5,328.1 129.8,331.9 136.0,333.1 142.2,335.2 148.5,338.8 154.8,343.8 162.2,350.0 168.5,353.8 174.8,354.4 181.0,356.2 184.0,356.2 186.2,354.4 191.2,351.2 198.8,351.0 203.8,353.1 210.0,355.0 213.8,357.2 220.0,357.5 225.0,360.0 228.8,363.1 231.9,364.0 235.0,362.5 240.0,357.5 245.0,353.8 250.0,351.9 255.0,352.2 261.2,349.8 267.5,348.8 272.5,348.1 276.2,347.2 280.0,348.5 283.1,350.6 287.5,351.9 293.1,353.5 298.0,352.2 301.0,350.5 307.2,346.2 312.0,343.8 318.2,345.0 324.5,342.0 329.5,347.5 335.8,352.0 342.0,352.5 349.5,350.0 357.0,346.2 364.5,348.2 370.8,353.8 376.0,356.2 381.0,356.0 386.6,354.4 389.1,359.4 394.8,362.5 399.1,364.4 403.5,370.0 408.5,375.0 412.2,380.2 417.2,380.0 422.2,382.5 426.0,386.2 429.8,392.5 434.1,398.1 438.5,401.9 443.5,408.8"/>
</g>
<text x="59.0" y="720.1" font-size="12.15" text-anchor="middle">Jan</text>
<text x="138.4" y="720.1" font-size="12.15" text-anchor="middle">Feb</text>
<text x="210.1" y="720.1" font-size="12.15" text-anchor="middle">Mar</text>
<text x="289.5" y="720.1" font-size="12.15" text-anchor="middle">Apr</text>
<text x="366.4" y="720.1" font-size="12.15" text-anchor="middle">May</text>
<text x="445.8" y="720.1" font-size="12.15" text-anchor="middle">Jun</text>
<text x="522.6" y="720.1" font-size="12.15" text-anchor="middle">Jul</text>
<text x="602.0" y="720.1" font-size="12.15" text-anchor="middle">Aug</text>
<text x="681.4" y="720.1" font-size="12.15" text-anchor="middle">Sep</text>
<text x="758.3" y="720.1" font-size="12.15" text-anchor="middle">Okt</text>
<text x="837.7" y="720.1" font-size="12.15" text-anchor="middle">Nov</text>
<text x="914.5" y="720.1" font-size="12.15" text-anchor="middle">Dec</text>
<text x="44.8" y="121.4" font-size="12.2" text-anchor="end">-2</text>
<text x="1007.6" y="121.4" font-size="12.2">-2</text>
<text x="44.8" y="236.9" font-size="12.2" text-anchor="end">-4</text>
<text x="1007.6" y="236.9" font-size="12.2">-4</text>
<text x="44.8" y="352.5" font-size="12.2" text-anchor="end">-6</text>
<text x="1007.6" y="352.5" font-size="12.2">-6</text>
<text x="44.8" y="468.0" font-size="12.2" text-anchor="end">-8</text>
<text x="1007.6" y="468.0" font-size="12.2">-8</text>
<text x="44.8" y="583.6" font-size="12.2" text-anchor="end">-10</text>
<text x="1007.6" y="583.6" font-size="12.2">-10</text>
<text x="44.8" y="699.1" font-size="12.2" text-anchor="end">-12</text>
<text x="1007.6" y="699.1" font-size="12.2">-12</text>
<text x="526.5" y="55.5" font-size="16.75" font-weight="bold" stroke-width="0.1" text-anchor="middle">PIOMAS Arctic Ice Volume Anomaly vs 1979-2009</text>
<text transform="translate(13,461.2) rotate(-90)" font-size="12.1" letter-spacing="0.1">Ice Volume Anomaly[1000 km³]</text>
<text x="62.1" y="690.2" font-size="10.72" xml:space="preserve" style="white-space:pre">Data: PIOMAS (Zhang and Rothrock 2003) Prepared by Wipneus (https://sites.google.com/site/arctischepinguin/home/piomas)    2014-06-03</text>
<rect x="73.1" y="557" width="147.65" height="115.4" fill="#fff" stroke="#000" stroke-width="0.75"/>
<g><line x1="83.6" y1="571.40" x2="105.4" y2="571.40" stroke="#7f00ff" stroke-width="3.1" stroke-linecap="round"/><text x="115.6" y="575.8" font-size="12.5">2002</text><line x1="83.6" y1="585.77" x2="105.4" y2="585.77" stroke="#0000f5" stroke-width="3.1" stroke-linecap="round"/><text x="115.6" y="590.2" font-size="12.5">2003</text><line x1="83.6" y1="600.14" x2="105.4" y2="600.14" stroke="#0a96ff" stroke-width="3.1" stroke-linecap="round"/><text x="115.6" y="604.5" font-size="12.5">2004</text><line x1="83.6" y1="614.51" x2="105.4" y2="614.51" stroke="#00f0f0" stroke-width="3.1" stroke-linecap="round"/><text x="115.6" y="618.9" font-size="12.5">2005</text><line x1="83.6" y1="628.88" x2="105.4" y2="628.88" stroke="#5cfa00" stroke-width="3.1" stroke-linecap="round"/><text x="115.6" y="633.3" font-size="12.5">2006</text><line x1="83.6" y1="643.25" x2="105.4" y2="643.25" stroke="#000000" stroke-width="3.1" stroke-linecap="round"/><text x="115.6" y="647.6" font-size="12.5">2007</text><line x1="83.6" y1="657.62" x2="105.4" y2="657.62" stroke="#157a15" stroke-width="3.1" stroke-linecap="round"/><text x="115.6" y="662.0" font-size="12.5">2008</text><line x1="155.0" y1="571.40" x2="176.8" y2="571.40" stroke="#ccff00" stroke-width="3.1" stroke-linecap="round"/><text x="186.8" y="575.8" font-size="12.5">2009</text><line x1="155.0" y1="585.77" x2="176.8" y2="585.77" stroke="#fdc200" stroke-width="3.1" stroke-linecap="round"/><text x="186.8" y="590.2" font-size="12.5">2010</text><line x1="155.0" y1="600.14" x2="176.8" y2="600.14" stroke="#ff9600" stroke-width="3.1" stroke-linecap="round"/><text x="186.8" y="604.5" font-size="12.5">2011</text><line x1="155.0" y1="614.51" x2="176.8" y2="614.51" stroke="#dc00dc" stroke-width="3.1" stroke-linecap="round"/><text x="186.8" y="618.9" font-size="12.5">2012</text><line x1="155.0" y1="628.88" x2="176.8" y2="628.88" stroke="#fb96d8" stroke-width="3.1" stroke-linecap="round"/><text x="186.8" y="633.3" font-size="12.5">2013</text><line x1="155.0" y1="643.25" x2="176.8" y2="643.25" stroke="#ff0000" stroke-width="3.1" stroke-linecap="round"/><text x="186.8" y="647.6" font-size="12.5">2014</text></g>
</svg></body></html>
